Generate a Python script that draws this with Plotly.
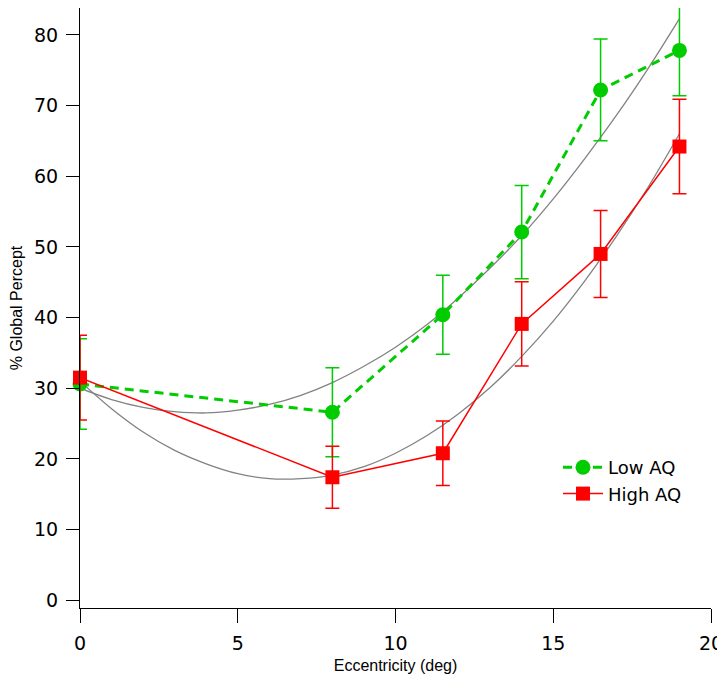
import plotly.graph_objects as go

# Data
ecc = [0, 8, 11.5, 14, 16.5, 19]
low_aq = [30.6, 26.6, 40.4, 52.1, 72.2, 77.8]
low_aq_err = [6.4, 6.3, 5.6, 6.6, 7.2, 6.4]
high_aq = [31.5, 17.4, 20.8, 39.1, 49.0, 64.2]
high_aq_err = [6.0, 4.4, 4.55, 5.95, 6.15, 6.7]

# Fitted curves (gray), values at integer eccentricities
fit_x = [0, 1, 2, 3, 4, 5, 6, 7, 8, 9, 10, 11, 12, 13, 14, 15, 16, 17, 18, 19]
fit_low = [30.0, 28.4, 27.3, 26.7, 26.5, 26.9, 27.7, 29.0, 30.8, 33.1, 35.8, 39.0,
           42.8, 47.0, 51.6, 56.8, 62.5, 68.6, 75.2, 82.3]
fit_high = [31.0, 27.1, 23.8, 21.2, 19.3, 17.9, 17.2, 17.2, 17.7, 18.9, 20.8, 23.3,
            26.4, 30.1, 34.5, 39.5, 45.2, 51.5, 58.4, 66.0]

x_ticks = [0, 5, 10, 15, 20]
y_ticks = [0, 10, 20, 30, 40, 50, 60, 70, 80]

GREEN = "rgb(0,204,0)"
RED = "rgb(255,0,0)"
GRAY = "rgb(130,130,130)"

fig = go.Figure()

fig.add_trace(go.Scatter(x=fit_x, y=fit_low, mode="lines", line=dict(color=GRAY, width=1.3, shape="spline"),
                         showlegend=False, hoverinfo="skip", cliponaxis=False))
fig.add_trace(go.Scatter(x=fit_x, y=fit_high, mode="lines", line=dict(color=GRAY, width=1.3, shape="spline"),
                         showlegend=False, hoverinfo="skip", cliponaxis=False))

fig.add_trace(go.Scatter(
    x=ecc, y=low_aq, name="Low AQ", mode="lines+markers",
    line=dict(color=GREEN, width=3, dash="9px,6px"),
    marker=dict(symbol="circle", size=15, color=GREEN),
    error_y=dict(type="data", array=low_aq_err, visible=True, color=GREEN, thickness=1.5, width=7),
    cliponaxis=False))

fig.add_trace(go.Scatter(
    x=ecc, y=high_aq, name="High AQ", mode="lines+markers",
    line=dict(color=RED, width=1.5),
    marker=dict(symbol="square", size=14, color=RED),
    error_y=dict(type="data", array=high_aq_err, visible=True, color=RED, thickness=1.5, width=7),
    cliponaxis=False))

axis_font = dict(family="DejaVu Sans", size=19, color="black")
title_font = dict(family="Liberation Sans Narrow, Liberation Sans, Arial", size=16, color="black")

fig.update_layout(
    width=725, height=681,
    margin=dict(l=72, r=22, t=0, b=81, autoexpand=False),
    paper_bgcolor="white", plot_bgcolor="white",
    showlegend=True,
    legend=dict(x=0.7575, y=0.265, xanchor="left", yanchor="top",
                font=dict(family="DejaVu Sans", size=18, color="black"),
                bgcolor="rgba(0,0,0,0)", tracegroupgap=0, itemwidth=40),
    xaxis=dict(range=[0, 20], tickvals=x_ticks, ticks="outside", ticklen=14, tickwidth=1.2,
               tickcolor="black", showline=True, linecolor="black", linewidth=1.2,
               showgrid=False, zeroline=False, tickfont=axis_font, automargin=False,
               ticklabelstandoff=4,
               title=dict(text="Eccentricity (deg)", font=title_font, standoff=6)),
    yaxis=dict(range=[-1.1, 83.8], tickvals=y_ticks, ticks="outside", ticklen=13, tickwidth=1.2,
               tickcolor="black", showline=True, linecolor="black", linewidth=1.2,
               showgrid=False, zeroline=False, tickfont=axis_font, automargin=False,
               ticklabelstandoff=4,
               title=dict(text="% Global Percept", font=title_font, standoff=10)),
)

fig.write_html("out.html")
